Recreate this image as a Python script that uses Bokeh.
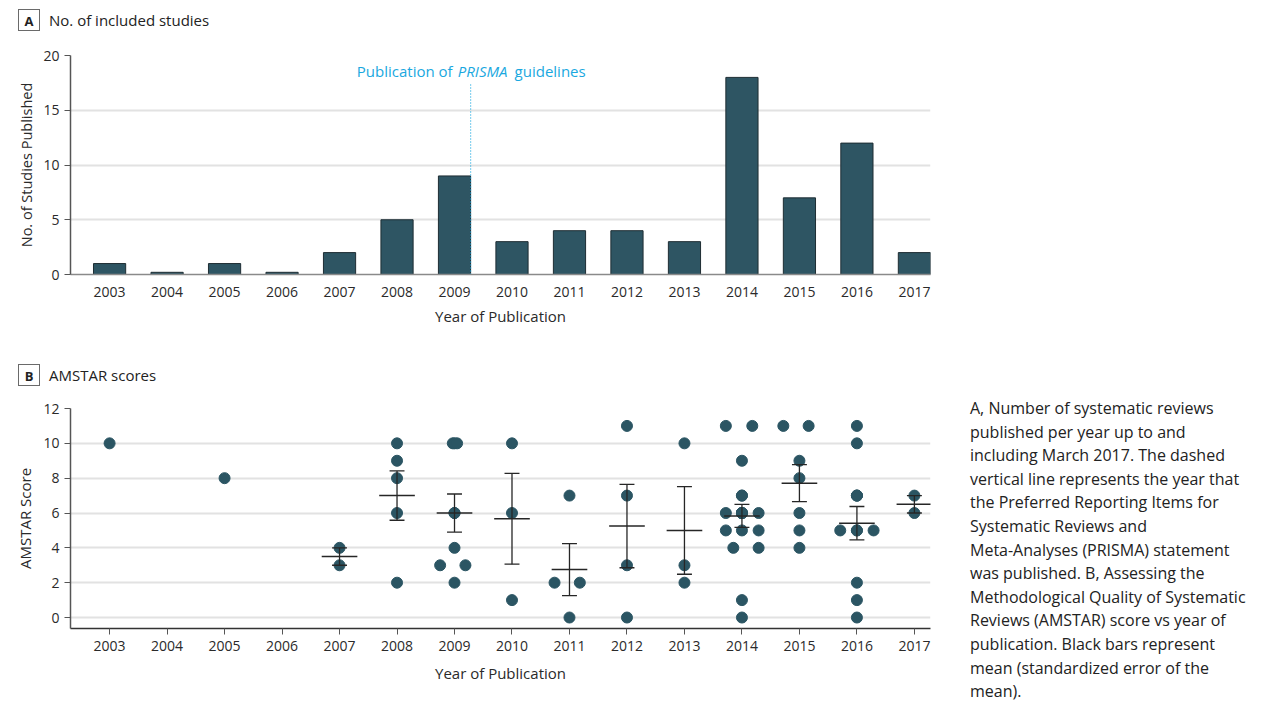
import numpy as np
from bokeh.plotting import figure
from bokeh.models import Div, FixedTicker, Label, Range1d
from bokeh.layouts import column, row
from bokeh.embed import file_html
from bokeh.resources import INLINE

# ---------------- data ----------------
years = [2003, 2004, 2005, 2006, 2007, 2008, 2009, 2010, 2011, 2012, 2013, 2014, 2015, 2016, 2017]
studies = [1, 0.2, 1, 0.2, 2, 5, 9, 3, 4, 4, 3, 18, 7, 12, 2]
prisma_year = 2009

amstar_year = ([2003] + [2005] + [2007] * 2 + [2008] * 5 + [2009] * 9 + [2010] * 3 +
               [2011] * 4 + [2012] * 4 + [2013] * 3 + [2014] * 18 + [2015] * 7 +
               [2016] * 12 + [2017] * 2)
amstar_score = ([10] + [8] + [4, 3] + [10, 9, 8, 6, 2] +
                [10, 10, 10, 6, 6, 4, 3, 3, 2] + [10, 6, 1] + [7, 2, 2, 0] +
                [11, 7, 3, 0] + [10, 3, 2] +
                [11, 11, 9, 7, 7, 6, 6, 6, 6, 6, 6, 5, 5, 5, 4, 4, 1, 0] +
                [11, 11, 9, 8, 6, 5, 4] +
                [11, 10, 7, 7, 7, 5, 5, 5, 5, 2, 1, 0] + [7, 6])
# horizontal jitter of the dots (year units)
amstar_jitter = ([0] + [0] + [0, 0] + [0, 0, 0, 0, 0] +
                 [-0.03, 0, 0.045, 0, 0, 0, -0.25, 0.19, 0] + [0, 0, 0] + [0, -0.26, 0.18, 0] +
                 [0, 0, 0, 0] + [0, 0, 0] +
                 [-0.28, 0.18, 0, 0, 0, -0.28, 0, 0.29, 0, 0, 0, -0.28, 0, 0.29, -0.15, 0.29, 0, 0] +
                 [-0.28, 0.16, 0, 0, 0, 0, 0] +
                 [0, 0, 0, 0, 0, -0.29, 0, 0.29, 0, 0, 0, 0] + [0, 0])

# ---------------- style ----------------
FONT = "Open Sans"
BAR_FILL = "#2e5563"
BAR_LINE = "#1e2d33"
DOT = "#2b5563"
GRID = "#e2e2e2"
TXT = "#2a2a2a"
BLUE = "#1aa8e0"
XR = (2002.32, 2017.28)
BAR_W = 0.56


def style(p, ylabel):
    p.xaxis.ticker = FixedTicker(ticks=years)
    p.xaxis.axis_label = "Year of Publication"
    p.yaxis.axis_label = ylabel
    for ax in (p.xaxis, p.yaxis):
        ax.major_label_text_font = FONT
        ax.major_label_text_font_size = "14px"
        ax.major_label_text_color = TXT
        ax.axis_label_text_font = FONT
        ax.axis_label_text_font_size = "15px"
        ax.axis_label_text_font_style = "normal"
        ax.axis_label_text_color = TXT
        ax.minor_tick_line_color = None
        ax.major_tick_in = 0
        ax.major_tick_out = 6
        ax.major_tick_line_color = "#555555"
        ax.axis_line_color = "#555555"
        ax.axis_line_width = 1.5
    p.xgrid.grid_line_color = None
    p.ygrid.grid_line_color = GRID
    p.ygrid.grid_line_width = 2
    p.outline_line_color = None
    p.background_fill_color = "white"
    p.border_fill_color = "white"


# ---------------- panel A ----------------
pa = figure(width=940, height=300, x_range=Range1d(*XR), y_range=Range1d(0, 20),
            output_backend="svg", toolbar_location=None,
            min_border_left=70, min_border_right=10, min_border_top=15, min_border_bottom=66)
style(pa, "No. of Studies Published")
pa.yaxis.ticker = FixedTicker(ticks=[0, 5, 10, 15, 20])
pa.yaxis.axis_label_text_font_size = "14.5px"
pa.xaxis.major_tick_out = 0
pa.xaxis.axis_line_color = "#8a8a8a"
pa.xaxis.major_label_standoff = 12
pa.xaxis.axis_label_standoff = 6
pa.yaxis.axis_label_standoff = 4
pa.vbar(x=years, top=studies, width=BAR_W, bottom=0,
        fill_color=BAR_FILL, line_color=BAR_LINE, line_width=1)

line_x = prisma_year + BAR_W / 2
pa.segment(x0=[line_x], y0=[0], x1=[line_x], y1=[17.5],
           line_color=BLUE, line_width=1.2, line_dash="1 2")
for txt, align, off, style_ in [("Publication of", "right", -18, "normal"),
                                ("PRISMA", "center", 12, "italic"),
                                ("guidelines", "left", 44, "normal")]:
    pa.add_layout(Label(x=line_x, y=18.55, text=txt, text_align=align, x_offset=off,
                        text_baseline="middle", text_font=FONT, text_font_size="15px",
                        text_font_style=style_, text_color=BLUE))

# ---------------- panel B ----------------
pb = figure(width=940, height=300, x_range=Range1d(*XR), y_range=Range1d(-0.63, 12),
            output_backend="svg", toolbar_location=None,
            min_border_left=70, min_border_right=10, min_border_top=13, min_border_bottom=67)
style(pb, "AMSTAR Score")
pb.yaxis.ticker = FixedTicker(ticks=list(range(0, 13, 2)))
pb.xaxis.axis_line_color = "#333333"
pb.xaxis.major_label_standoff = 6
pb.xaxis.axis_label_standoff = 9
pb.yaxis.axis_label_standoff = 5

ay = np.array(amstar_year, dtype=float)
asc = np.array(amstar_score, dtype=float)
ajit = np.array(amstar_jitter, dtype=float)
pb.scatter(x=ay + ajit, y=asc, size=11, fill_color=DOT, line_color=DOT)

mx, mm, lo, hi = [], [], [], []
for yr in years:
    v = asc[ay == yr]
    if len(v) >= 2:
        m = v.mean()
        se = v.std(ddof=1) / np.sqrt(len(v))
        mx.append(yr); mm.append(m); lo.append(m - se); hi.append(m + se)
mx = np.array(mx, dtype=float)
MEAN_HW, CAP_HW = 0.31, 0.13
EB = "#262626"
pb.segment(x0=mx - MEAN_HW, x1=mx + MEAN_HW, y0=mm, y1=mm, line_color=EB, line_width=1.5)
pb.segment(x0=mx, x1=mx, y0=lo, y1=hi, line_color=EB, line_width=1.3)
pb.segment(x0=mx - CAP_HW, x1=mx + CAP_HW, y0=lo, y1=lo, line_color=EB, line_width=1.3)
pb.segment(x0=mx - CAP_HW, x1=mx + CAP_HW, y0=hi, y1=hi, line_color=EB, line_width=1.3)


# ---------------- titles & caption ----------------
def title_div(letter, text, h, top):
    html = (f'<div style="position:relative;width:940px;height:{h}px;">'
            f'<span style="position:absolute;left:18px;top:{top}px;width:22px;height:22px;'
            f'border:1px solid #6a6a6a;font-family:\'{FONT}\';font-weight:bold;font-size:13px;'
            f'line-height:22px;text-align:center;color:#222;">{letter}</span>'
            f'<span style="position:absolute;left:49px;top:{top - 1}px;font-family:\'{FONT}\';'
            f'font-size:15px;line-height:24px;color:#222;">{text}</span></div>')
    return Div(text=html, width=940, height=h, margin=(0, 0, 0, 0))


divA = title_div("A", "No. of included studies", 40, 9)
divB = title_div("B", "AMSTAR scores", 55, 24)
bottom_line = Div(text='<div style="position:relative;width:940px;height:8px;">'
                       '<div style="position:absolute;left:10px;top:5px;width:930px;height:2px;'
                       'background:#ececec;"></div></div>',
                  width=940, height=8, margin=(0, 0, 0, 0))

caption_lines = ["A, Number of systematic reviews",
                 "published per year up to and",
                 "including March 2017. The dashed",
                 "vertical line represents the year that",
                 "the Preferred Reporting Items for",
                 "Systematic Reviews and",
                 "Meta-Analyses (PRISMA) statement",
                 "was published. B, Assessing the",
                 "Methodological Quality of Systematic",
                 "Reviews (AMSTAR) score vs year of",
                 "publication. Black bars represent",
                 "mean (standardized error of the",
                 "mean)."]
cap_html = (f'<div style="position:relative;width:324px;height:703px;">'
            f'<div style="position:absolute;left:30px;top:397px;font-family:\'{FONT}\';'
            f'font-size:16px;line-height:23.6px;color:#222;white-space:nowrap;">'
            + "<br>".join(caption_lines) + '</div></div>')
caption = Div(text=cap_html, width=324, height=703, margin=(0, 0, 0, 0))

left = column(divA, pa, divB, pb, bottom_line, spacing=0, margin=(0, 0, 0, 0))
page = row(left, caption, spacing=0, margin=(0, 0, 0, 0))

open("out.html", "w").write(file_html(page, INLINE))
